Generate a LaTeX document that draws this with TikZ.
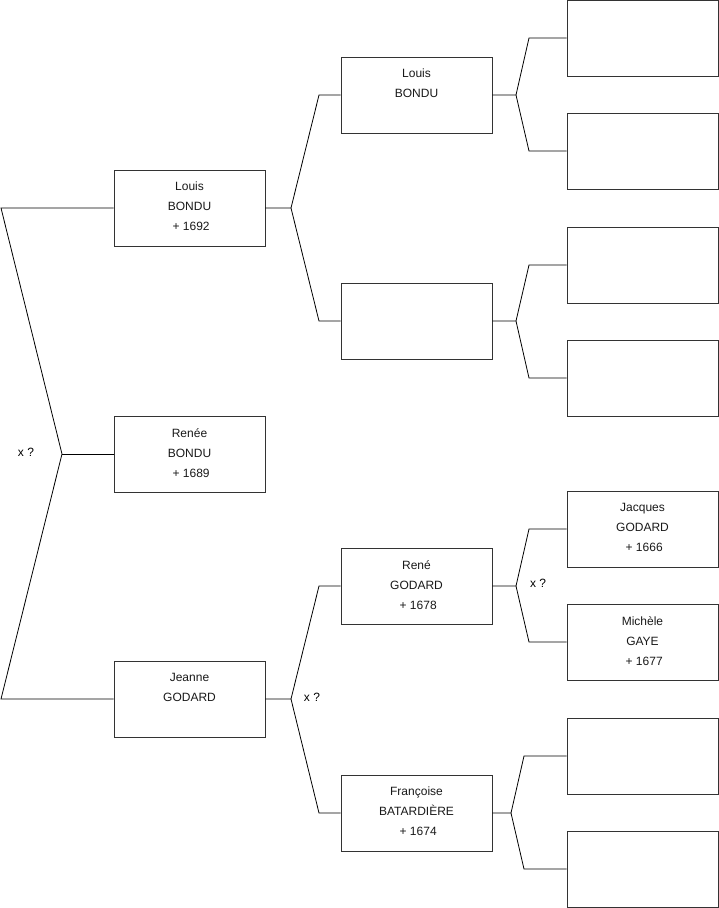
\documentclass[tikz,border=0pt]{standalone}
\usepackage{fontspec}
\setmainfont{Liberation Sans}
\usetikzlibrary{positioning,calc}

\begin{document}
\begin{tikzpicture}[
  x=1pt, y=-1pt,
  font=\fontsize{12}{20}\selectfont,
  person/.style={draw=black!80, line width=0.9pt, minimum width=151pt, minimum height=76pt,
                 inner sep=0pt, anchor=center},
  who/.style={align=center, anchor=north, inner sep=0pt, text=black!90},
  link/.style={draw=black, line width=0.8pt},
  xnote/.style={font=\fontsize{12}{14}\selectfont, inner sep=0pt},
]
\useasboundingbox (0,0) rectangle (719,908);
\def\ga{189.5} % generation 1 centre
\def\gb{416.5} % generation 2 centre
\def\gc{642.5} % generation 3 centre

% ================= GENERATION 1 =================
\node[person] (louis)  at (\ga,208) {};
\node[who] at ([yshift=-12.5pt]louis.north) {Louis\\BONDU\\\ + 1692};
\node[person] (renee)  at (\ga,454) {};
\node[who] at ([yshift=-12.5pt]renee.north) {Renée\\BONDU\\\ + 1689};
\node[person] (jeanne) at (\ga,699) {};
\node[who] at ([yshift=-12.5pt]jeanne.north) {Jeanne\\GODARD};

% ================= GENERATION 2 =================
\node[person] (louisp) at (\gb,95) {};
\node[who] at ([yshift=-12.5pt]louisp.north) {Louis\\BONDU};
\node[person] (louism) at (\gb,321) {};
\node[person] (rene)   at (\gb,586) {};
\node[who] at ([yshift=-12.5pt]rene.north) {René\\GODARD\\\ + 1678};
\node[person] (franc)  at (\gb,813) {};
\node[who] at ([yshift=-12.5pt]franc.north) {Françoise\\BATARDIÈRE\\\ + 1674};

% ================= GENERATION 3 =================
\node[person] (g1) at (\gc,38)  {};
\node[person] (g2) at (\gc,151) {};
\node[person] (g3) at (\gc,265) {};
\node[person] (g4) at (\gc,378) {};
\node[person] (jacques) at (\gc,529) {};
\node[who] at ([yshift=-12.5pt]jacques.north) {Jacques\\GODARD\\\ + 1666};
\node[person] (michele) at (\gc,642) {};
\node[who] at ([yshift=-12.5pt]michele.north) {Michèle\\GAYE\\\ + 1677};
\node[person] (g7) at (\gc,756) {};
\node[person] (g8) at (\gc,869) {};

% ================= FORKS =================
% root
\coordinate (rt) at (62,454);
\draw[link] (louis.west) -- (1,208) -- (rt) -- (1,699) -- (jeanne.west);
\draw[link] (rt) -- (renee.west);
\node[xnote] (xr) at (26,452) {x ?};

% generation 1 -> 2
\coordinate (fa) at (291,208);
\draw[link] (louis.east) -- (fa) -- (319,95) -- (louisp.west);
\draw[link] (fa) -- (319,321) -- (louism.west);
\coordinate (fb) at (291,699);
\draw[link] (jeanne.east) -- (fb) -- (319,586) -- (rene.west);
\draw[link] (fb) -- (319,813) -- (franc.west);
\node[xnote] (xj) at (312,697) {x ?};

% generation 2 -> 3
\coordinate (fc) at (516,95);
\draw[link] (louisp.east) -- (fc) -- (529,38) -- (g1.west);
\draw[link] (fc) -- (529,151) -- (g2.west);
\coordinate (fd) at (516,321);
\draw[link] (louism.east) -- (fd) -- (529,265) -- (g3.west);
\draw[link] (fd) -- (529,378) -- (g4.west);
\coordinate (fe) at (516,586);
\draw[link] (rene.east) -- (fe) -- (529,529) -- (jacques.west);
\draw[link] (fe) -- (529,642) -- (michele.west);
\node[xnote] (xg) at (538,583) {x ?};
\coordinate (ff) at (511,813);
\draw[link] (franc.east) -- (ff) -- (524,756) -- (g7.west);
\draw[link] (ff) -- (524,869) -- (g8.west);
\end{tikzpicture}
\end{document}
